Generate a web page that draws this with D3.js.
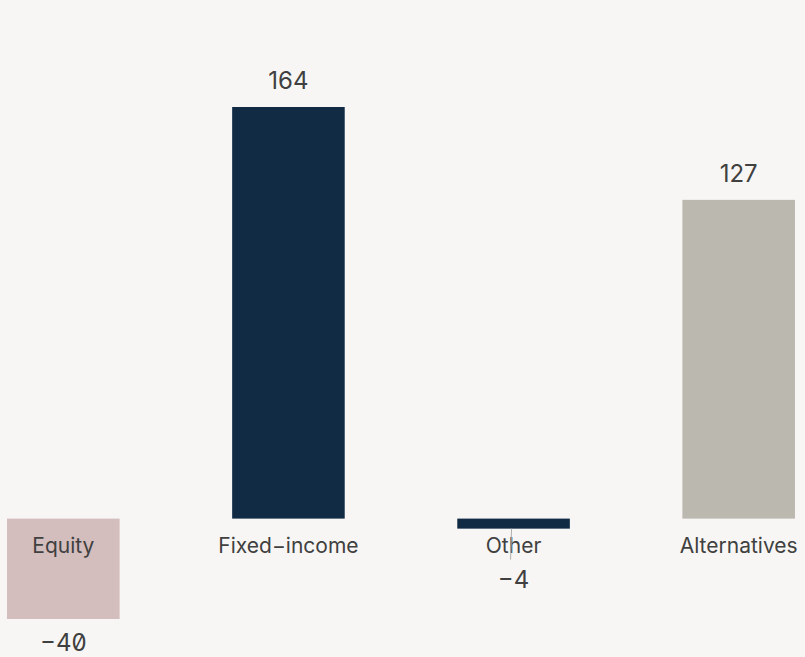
<!DOCTYPE html>
<html>
<head>
<meta charset="utf-8">
<script src="https://cdn.jsdelivr.net/npm/d3@7/dist/d3.min.js"></script>
<style>
  html, body { margin: 0; padding: 0; background: #f7f6f4; }
  svg { display: block; }
  text { font-family: Inter, "Liberation Sans", sans-serif; fill: #404040; font-feature-settings: "zero"; }
</style>
</head>
<body>
<svg id="chart" width="805" height="657"></svg>
<script>
// Net flows by asset class
const categories = ["Equity", "Fixed\u2212income", "Other", "Alternatives"];
const values = [-40, 164, -4, 127];
const colors = ["#d3bdbd", "#112b45", "#112b45", "#bbb8b0"];

const width = 805, height = 657;
const svg = d3.select("#chart");

const x = d3.scaleBand()
  .domain(categories)
  .range([-49.25, 851.25])
  .paddingInner(0.5)
  .paddingOuter(0.25);

const y = d3.scaleLinear()
  .domain([-40, 164])
  .range([619, 107]);

const zeroY = y(0);
const data = categories.map((c, i) => ({ cat: c, value: values[i], color: colors[i] }));

// bars
svg.append("g").selectAll("rect")
  .data(data)
  .join("rect")
  .attr("x", d => x(d.cat))
  .attr("width", x.bandwidth())
  .attr("y", d => Math.min(y(d.value), zeroY))
  .attr("height", d => Math.abs(y(d.value) - zeroY))
  .attr("fill", d => d.color);

// category labels just below the baseline
svg.append("g").selectAll("text")
  .data(data)
  .join("text")
  .attr("x", d => x(d.cat) + x.bandwidth() / 2)
  .attr("y", zeroY + 34)
  .attr("text-anchor", "middle")
  .attr("font-size", 21)
  .text(d => d.cat);

// value labels: above positive bars, below negative bars (clear of the category label)
const labelFloor = zeroY + 35;
const valueY = d => d.value >= 0 ? y(d.value) - 18 : Math.min(Math.max(y(d.value), labelFloor) + 34, height - 6);

svg.append("g").selectAll("text")
  .data(data)
  .join("text")
  .attr("x", d => x(d.cat) + x.bandwidth() / 2)
  .attr("y", valueY)
  .attr("text-anchor", "middle")
  .attr("font-size", 24)
  .text(d => d.value < 0 ? "\u2212" + Math.abs(d.value) : d.value);

// leader line for short negative bars whose label sits below the category name
svg.append("g").selectAll("line")
  .data(data.filter(d => d.value < 0 && y(d.value) < labelFloor))
  .join("line")
  .attr("x1", d => x(d.cat) + x.bandwidth() / 2 - 2)
  .attr("x2", d => x(d.cat) + x.bandwidth() / 2 - 3)
  .attr("y1", d => y(d.value))
  .attr("y2", labelFloor + 6)
  .attr("stroke", "#b0b0b0")
  .attr("stroke-width", 1);
</script>
</body>
</html>
